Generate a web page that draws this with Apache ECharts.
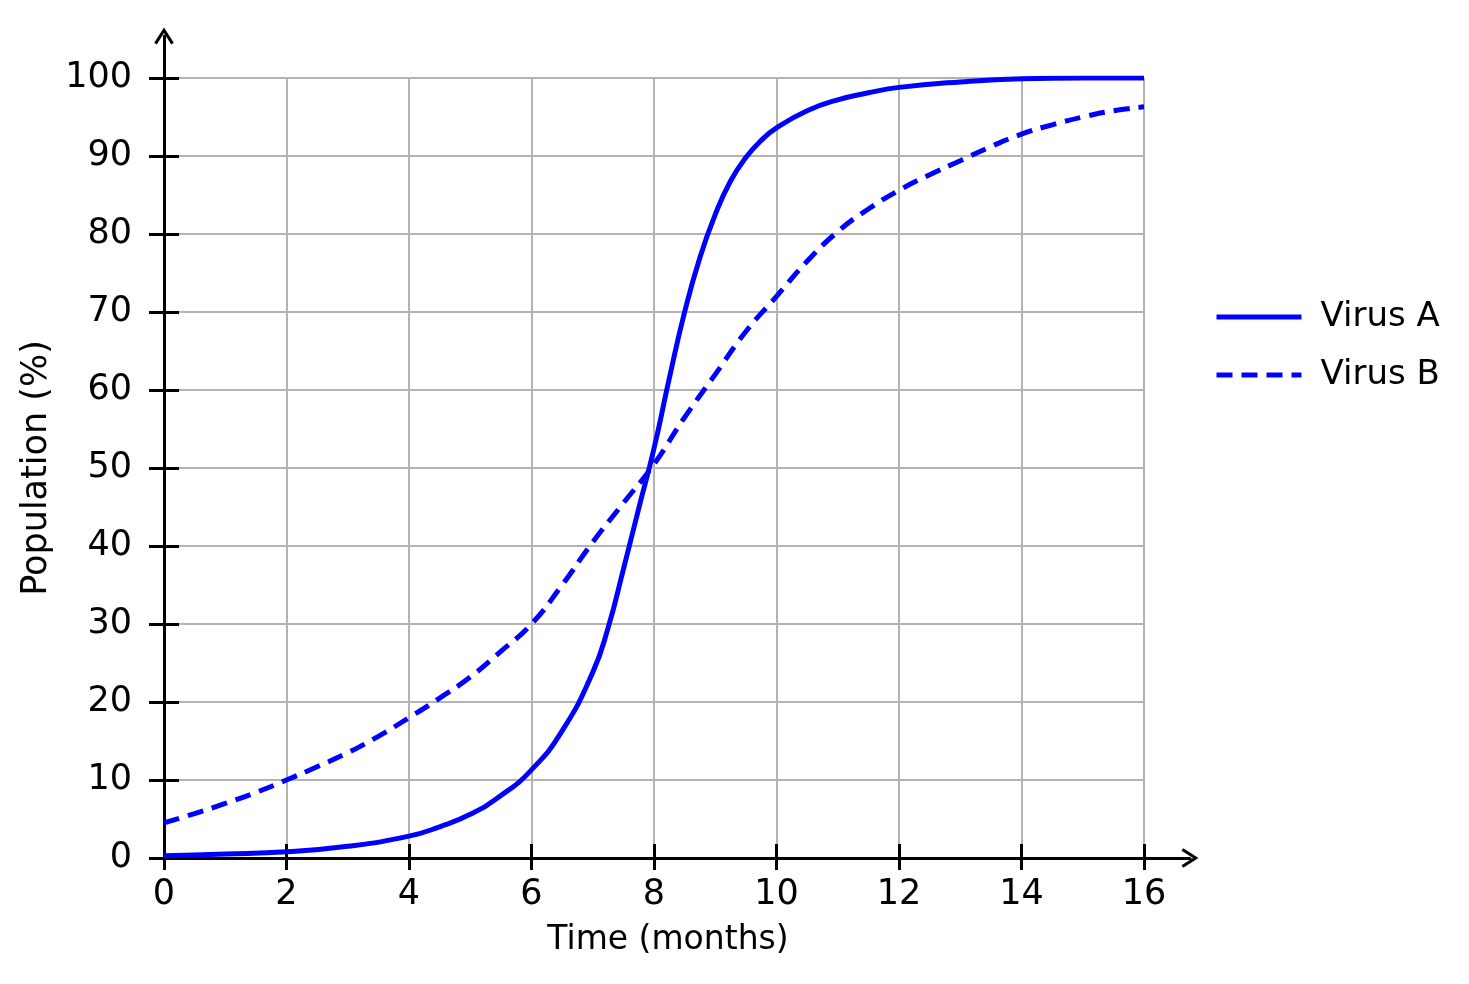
<!DOCTYPE html>
<html>
<head>
<meta charset="utf-8">
<title>Virus population</title>
<script src="https://cdn.jsdelivr.net/npm/echarts@6/dist/echarts.min.js"></script>
<style>
  html, body { margin: 0; padding: 0; background: #fff; }
  #chart { width: 1469px; height: 984px; }
</style>
</head>
<body>
<div id="chart"></div>
<script>
// values: [time in months, population %]
var virusA = [
  [0, 0.3], [1, 0.5], [2, 0.8], [3, 1.5], [4, 2.8], [4.5, 4.0], [5, 5.6], [5.5, 8.0],
  [6, 11.3], [6.5, 16.3], [7, 23.8], [7.25, 29.5], [7.5, 37], [7.75, 44.8], [8, 52.5],
  [8.25, 61.5], [8.5, 70], [8.75, 77], [9, 82.5], [9.25, 86.8], [9.5, 89.8],
  [9.75, 92], [10, 93.6], [10.5, 95.8], [11, 97.2], [11.5, 98.1], [12, 98.8],
  [13, 99.5], [14, 99.9], [15, 100], [16, 100]
];
var virusB = [
  [0, 4.5], [0.5, 5.7], [1, 7], [1.5, 8.4], [2, 10], [2.5, 11.7], [3, 13.5],
  [3.5, 15.6], [4, 18], [4.5, 20.5], [5, 23.2], [5.5, 26.5], [6, 30], [6.5, 35],
  [7, 40.5], [7.5, 45.5], [8, 50.5], [8.5, 56.5], [9, 62], [9.5, 67.5], [10, 72],
  [10.5, 76.5], [11, 80.3], [11.5, 83.2], [12, 85.6], [12.5, 87.6], [13, 89.4],
  [13.5, 91.2], [14, 92.8], [14.5, 94], [15, 95], [15.5, 95.8], [16, 96.3]
];
var seriesNames = ['Virus A', 'Virus B'];
var xName = 'Time (months)';
var yName = 'Population (%)';

var font = 'DejaVu Sans';
var blue = '#0000ff';
var black = '#000';
// open chevron for the axis ends
var chevron = 'path://M0,14 L9,0 L18,14 L15.6,15.6 L9,5 L2.4,15.6 Z';

var myChart = echarts.init(document.getElementById('chart'));

option = {
  backgroundColor: '#fff',
  animation: false,
  textStyle: { fontFamily: font },
  grid: [
    { left: 164, right: 325, top: 78, bottom: 126 },
    { left: 164, right: 279, top: 36, bottom: 126 }
  ],
  legend: {
    orient: 'vertical',
    left: 1209,
    top: 292,
    itemWidth: 85,
    itemHeight: 16,
    itemGap: 18,
    itemStyle: { opacity: 0 },
    lineStyle: { width: 5 },
    textStyle: { fontSize: 34, color: black, fontFamily: font, lineHeight: 40, padding: [0, 0, 0, 14] },
    data: seriesNames
  },
  xAxis: [
    {
      gridIndex: 0, type: 'value', position: 'bottom',
      min: 0, max: 16, interval: 2,
      name: xName, nameLocation: 'middle', nameGap: 66,
      nameTextStyle: { fontSize: 33, color: black, fontFamily: font, padding: [0, 0, 0, 28] },
      axisLine: { show: false },
      axisTick: { show: true, inside: false, length: 12, lineStyle: { color: black, width: 3 } },
      axisLabel: { margin: 19, fontSize: 35, color: black, fontFamily: font },
      splitLine: { show: true, lineStyle: { color: '#b3b3b3', width: 2 } }
    },
    {
      gridIndex: 0, type: 'value', position: 'bottom',
      min: 0, max: 16, interval: 2,
      axisLine: { show: false },
      axisTick: { show: true, inside: true, length: 14, lineStyle: { color: black, width: 3 } },
      axisLabel: { show: false },
      splitLine: { show: false }
    },
    {
      gridIndex: 1, type: 'value', position: 'bottom', min: 0, max: 1,
      axisLine: {
        show: true, symbol: ['none', chevron], symbolSize: [20, 17],
        lineStyle: { color: black, width: 3 }
      },
      axisTick: { show: false }, axisLabel: { show: false }, splitLine: { show: false }
    }
  ],
  yAxis: [
    {
      gridIndex: 0, type: 'value', position: 'left',
      min: 0, max: 100, interval: 10,
      name: yName, nameLocation: 'middle', nameGap: 101,
      nameTextStyle: { fontSize: 35, color: black, fontFamily: font },
      axisLine: { show: false },
      axisTick: { show: true, inside: false, length: 15, lineStyle: { color: black, width: 3 } },
      axisLabel: { margin: 32, fontSize: 35, color: black, fontFamily: font },
      splitLine: { show: true, lineStyle: { color: '#b3b3b3', width: 2 } }
    },
    {
      gridIndex: 0, type: 'value', position: 'left',
      min: 0, max: 100, interval: 10,
      axisLine: { show: false },
      axisTick: { show: true, inside: true, length: 15, lineStyle: { color: black, width: 3 } },
      axisLabel: { show: false },
      splitLine: { show: false }
    },
    {
      gridIndex: 1, type: 'value', position: 'left', min: 0, max: 1,
      axisLine: {
        show: true, symbol: ['none', chevron], symbolSize: [20, 17],
        lineStyle: { color: black, width: 3 }
      },
      axisTick: { show: false }, axisLabel: { show: false }, splitLine: { show: false }
    }
  ],
  series: [
    {
      name: seriesNames[0], type: 'line', xAxisIndex: 0, yAxisIndex: 0,
      data: virusA, showSymbol: false, symbol: 'none',
      smooth: 0.5,
      lineStyle: { color: blue, width: 5 },
      itemStyle: { color: blue }
    },
    {
      name: seriesNames[1], type: 'line', xAxisIndex: 0, yAxisIndex: 0,
      data: virusB, showSymbol: false, symbol: 'none',
      smooth: 0.5,
      lineStyle: { color: blue, width: 5, type: [16, 9] },
      itemStyle: { color: blue }
    }
  ]
};

myChart.setOption(option, true);
</script>
</body>
</html>
